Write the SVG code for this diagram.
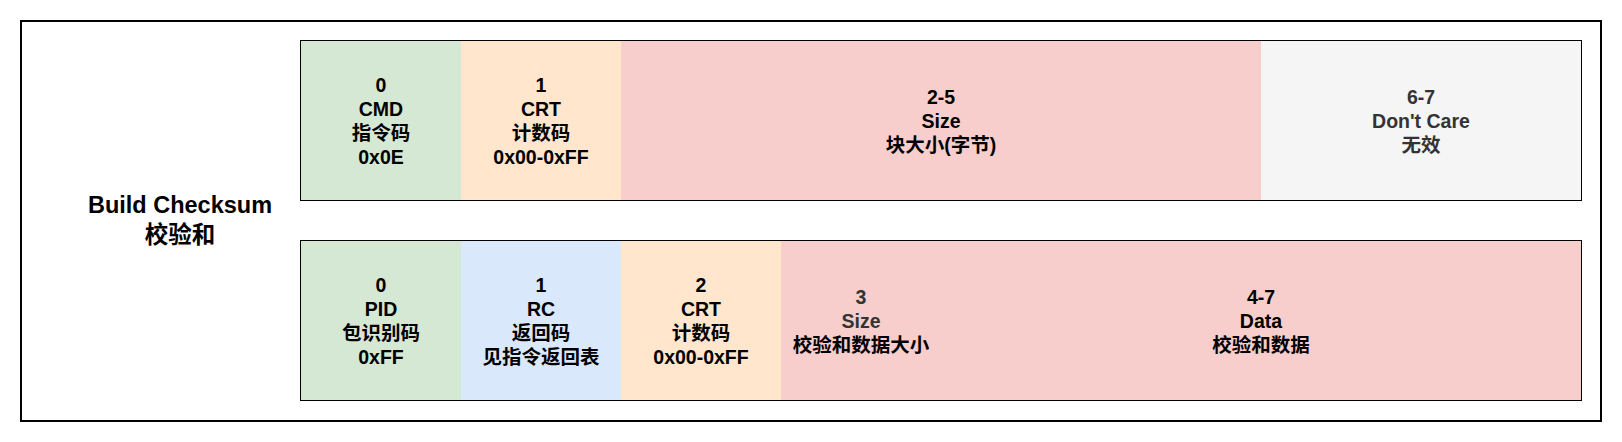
<svg xmlns="http://www.w3.org/2000/svg" width="1622" height="442" viewBox="0 0 1622 442">
<style>
text{font-family:"Liberation Sans","Noto Sans CJK SC",sans-serif;font-weight:bold;text-anchor:middle;fill:#000}
.c{font-size:19.5px}
.t{font-size:23.5px}
.g{fill:#333333}
.row{fill:none;stroke:#000;stroke-width:1}
</style>
<rect width="1622" height="442" fill="#fff"/>
<g id="frame">
<rect x="21" y="21" width="1580" height="400" fill="#fff" stroke="#000" stroke-width="2"/>
<text class="t" x="180" y="213">Build Checksum</text>
<text class="t" x="180" y="243">校验和</text>
</g>
<g id="row1">
<g id="cmd"><rect x="300.5" y="40.5" width="160.5" height="160" fill="#d5e8d4"/>
<text class="c" x="381" y="92">0</text><text class="c" x="381" y="116">CMD</text><text class="c" x="381" y="140">指令码</text><text class="c" x="381" y="164">0x0E</text></g>
<g id="crt1"><rect x="461" y="40.5" width="160" height="160" fill="#ffe6cc"/>
<text class="c" x="541" y="92">1</text><text class="c" x="541" y="116">CRT</text><text class="c" x="541" y="140">计数码</text><text class="c" x="541" y="164">0x00-0xFF</text></g>
<g id="size1"><rect x="621" y="40.5" width="640" height="160" fill="#f8cecc"/>
<text class="c" x="941" y="104">2-5</text><text class="c" x="941" y="128">Size</text><text class="c" x="941" y="152">块大小(字节)</text></g>
<g id="dontcare"><rect x="1261" y="40.5" width="320.5" height="160" fill="#f5f5f5"/>
<text class="c g" x="1421" y="104">6-7</text><text class="c g" x="1421" y="128">Don't Care</text><text class="c g" x="1421" y="152">无效</text></g>
<rect class="row" x="300.5" y="40.5" width="1281" height="160"/>
</g>
<g id="row2">
<g id="pid"><rect x="300.5" y="240.5" width="160.5" height="160" fill="#d5e8d4"/>
<text class="c" x="381" y="292">0</text><text class="c" x="381" y="316">PID</text><text class="c" x="381" y="340">包识别码</text><text class="c" x="381" y="364">0xFF</text></g>
<g id="rc"><rect x="461" y="240.5" width="160" height="160" fill="#dae8fc"/>
<text class="c" x="541" y="292">1</text><text class="c" x="541" y="316">RC</text><text class="c" x="541" y="340">返回码</text><text class="c" x="541" y="364">见指令返回表</text></g>
<g id="crt2"><rect x="621" y="240.5" width="160" height="160" fill="#ffe6cc"/>
<text class="c" x="701" y="292">2</text><text class="c" x="701" y="316">CRT</text><text class="c" x="701" y="340">计数码</text><text class="c" x="701" y="364">0x00-0xFF</text></g>
<g id="size2"><rect x="781" y="240.5" width="160" height="160" fill="#f8cecc"/>
<text class="c g" x="861" y="304">3</text><text class="c g" x="861" y="328">Size</text><text class="c" x="861" y="352">校验和数据大小</text></g>
<g id="data"><rect x="941" y="240.5" width="640.5" height="160" fill="#f8cecc"/>
<text class="c" x="1261" y="304">4-7</text><text class="c" x="1261" y="328">Data</text><text class="c" x="1261" y="352">校验和数据</text></g>
<rect class="row" x="300.5" y="240.5" width="1281" height="160"/>
</g>
<g id="connectors"/>
</svg>
